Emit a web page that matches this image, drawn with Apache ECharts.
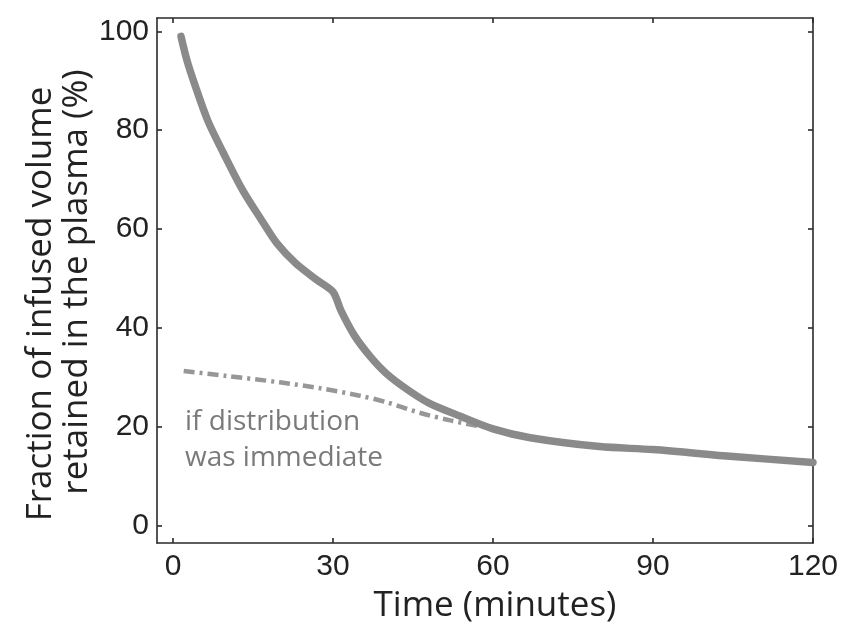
<!DOCTYPE html>
<html><head><meta charset="utf-8">
<script src="https://cdn.jsdelivr.net/npm/echarts@6/dist/echarts.min.js"></script>
<style>html,body{margin:0;padding:0;background:#fff}#c{width:841px;height:632px}</style>
</head><body><div id="c"></div>
<script>
// Data
const mainTime = [1.5, 2.6, 4, 6.5, 9.5, 13, 16.5, 19.5, 23, 27, 30, 31.5, 34, 37, 40, 44, 48, 54, 60, 67, 80, 90, 105, 120];
const mainValue = [99, 94.2, 89.5, 82, 75.3, 68, 62, 57.1, 53.1, 49.7, 47.3, 43.5, 38.5, 34.2, 30.8, 27.5, 24.8, 22.1, 19.6, 17.8, 16.0, 15.4, 14.0, 12.8];
const immTime = [2, 10, 20, 27.6, 35, 40, 46.4, 52, 58];
const immValue = [31.3, 30.3, 29, 27.8, 26.3, 25, 22.8, 21.3, 20];
const xTicks = [0, 30, 60, 90, 120];
const yTicks = [0, 20, 40, 60, 80, 100];
const xTitle = 'Time (minutes)';
const yTitle1 = 'Fraction of infused volume';
const yTitle2 = 'retained in the plasma (%)';
const annotation = ['if distribution', 'was immediate'];

const pair = (a, b) => a.map((v, i) => [v, b[i]]);
const axisLineStyle = { color: '#2a2a2a', width: 1.6 };
const tickStyle = { show: true, inside: true, length: 5, lineStyle: { color: '#2a2a2a', width: 1.6 } };
const labelFont = { fontFamily: 'Liberation Sans', fontSize: 30, color: '#222' };

const chart = echarts.init(document.getElementById('c'), null, { renderer: 'canvas' });
chart.setOption({
  animation: false,
  backgroundColor: '#fff',
  grid: { left: 157, right: 28, top: 18, bottom: 89, containLabel: false },
  xAxis: [
    { type: 'value', min: -3, max: 120, position: 'bottom',
      axisLine: { show: true, onZero: false, lineStyle: axisLineStyle },
      axisTick: Object.assign({ customValues: xTicks }, tickStyle),
      axisLabel: Object.assign({ customValues: xTicks, margin: 9 }, labelFont),
      splitLine: { show: false } },
    { type: 'value', min: -3, max: 120, position: 'top',
      axisLine: { show: true, onZero: false, lineStyle: axisLineStyle },
      axisTick: Object.assign({ customValues: xTicks }, tickStyle),
      axisLabel: { show: false }, splitLine: { show: false } }
  ],
  yAxis: [
    { type: 'value', min: -3.5, max: 102.7, position: 'left',
      axisLine: { show: true, onZero: false, lineStyle: axisLineStyle },
      axisTick: Object.assign({ customValues: yTicks }, tickStyle),
      axisLabel: Object.assign({ customValues: yTicks, margin: 8 }, labelFont),
      splitLine: { show: false } },
    { type: 'value', min: -3.5, max: 102.7, position: 'right',
      axisLine: { show: true, onZero: false, lineStyle: axisLineStyle },
      axisTick: Object.assign({ customValues: yTicks }, tickStyle),
      axisLabel: { show: false }, splitLine: { show: false } }
  ],
  series: [
    { type: 'line', data: pair(immTime, immValue), showSymbol: false, smooth: 0.3, z: 2,
      lineStyle: { color: '#979797', width: 4.5, type: [11, 5, 3, 5], cap: 'butt' } },
    { type: 'line', data: pair(mainTime, mainValue), showSymbol: false, smooth: 0.3, z: 3,
      lineStyle: { color: '#8a8a8a', width: 7.5, cap: 'round', join: 'round' } }
  ],
  graphic: [
    { type: 'text', left: 185, top: 404, z: 10,
      style: { text: annotation.join('\n'), fontFamily: 'Open Sans', fontSize: 28, lineHeight: 36, fill: '#7a7a7a' } },
    { type: 'text', x: 495, y: 606, z: 10,
      style: { text: xTitle, fontFamily: 'Open Sans', fontSize: 35, fill: '#222', align: 'center', verticalAlign: 'middle' } },
    { type: 'text', x: 41, y: 304, rotation: Math.PI / 2, z: 10,
      style: { text: yTitle1, fontFamily: 'Open Sans', fontSize: 35, fill: '#222', align: 'center', verticalAlign: 'middle' } },
    { type: 'text', x: 77, y: 282, rotation: Math.PI / 2, z: 10,
      style: { text: yTitle2, fontFamily: 'Open Sans', fontSize: 35, fill: '#222', align: 'center', verticalAlign: 'middle' } }
  ]
});
</script></body></html>
